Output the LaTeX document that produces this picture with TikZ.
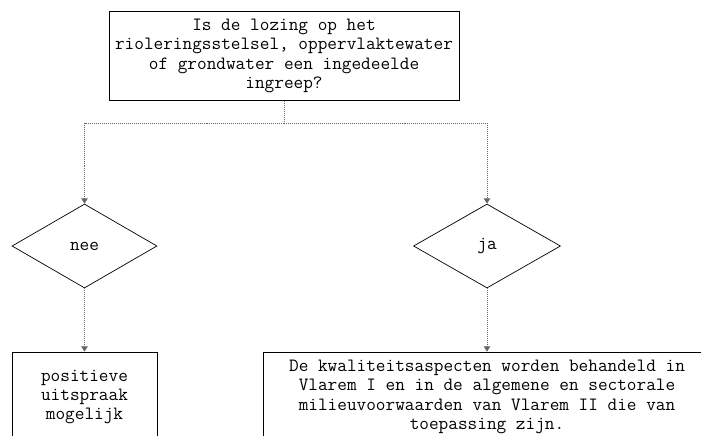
\documentclass[tikz,border=0pt]{standalone}
\usetikzlibrary{shapes.geometric,arrows.meta}

\begin{document}
\begin{tikzpicture}[x=0.03cm,y=-0.03cm,line width=0.6pt,
  >={Triangle[length=4.5pt,width=5.5pt]},
  box/.style={draw,rectangle,align=center,inner sep=0pt,
    font=\fontsize{16}{16.4}\ttfamily},
  choice/.style={draw,diamond,inner sep=0pt,minimum height=2.52cm,
    font=\fontsize{16}{16.4}\ttfamily},
  link/.style={densely dotted,gray!80!black,line width=0.7pt}]

\useasboundingbox (0,0) rectangle (701,435);
\clip (0,0) rectangle (701,435);

\node[box,minimum width=10.5cm,minimum height=2.67cm] (Q) at (284,56)
  {Is de lozing op het\\rioleringsstelsel, oppervlaktewater\\of grondwater een ingedeelde\\ingreep?};

\node[choice,minimum width=4.35cm] (N) at (84.5,246) {nee};
\node[choice,minimum width=4.41cm] (J) at (487,246) {ja};

\node[box,minimum width=4.35cm,minimum height=2.7cm] (P) at (84.5,397)
  {positieve\\uitspraak\\mogelijk};
\node[box,minimum width=13.44cm,minimum height=2.7cm] (K) at (487,397)
  {De kwaliteitsaspecten worden behandeld in\\Vlarem I en in de algemene en sectorale\\milieuvoorwaarden van Vlarem II die van\\toepassing zijn.};

\coordinate (T) at (284,123);

\draw[link] (Q.south) -- (T);
\draw[link,->] (T) -| (N.north);
\draw[link,->] (T) -| (J.north);
\draw[link,->] (N.south) -- (P.north);
\draw[link,->] (J.south) -- (K.north);

\end{tikzpicture}
\end{document}
